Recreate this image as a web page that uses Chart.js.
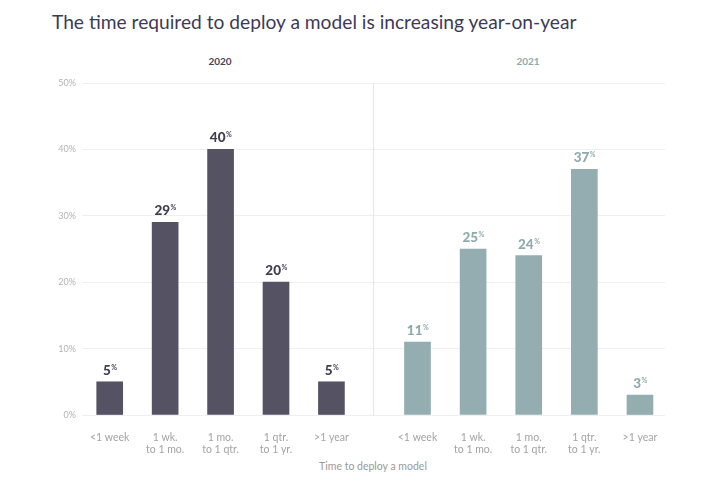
<!DOCTYPE html>
<html>
<head>
<meta charset="utf-8">
<script src="https://cdn.jsdelivr.net/npm/chart.js@4"></script>
<style>
  body { margin: 0; background: #fff; font-family: Lato, sans-serif; }
  #wrap { position: relative; width: 703px; height: 487px; overflow: hidden; }
  #title { position: absolute; left: 52px; top: 10px; font-size: 19.2px; color: #3d3a58; white-space: nowrap; }
  .panel { position: absolute; top: 55px; width: 100px; margin-left: -50px; text-align: center; font-size: 10px; font-weight: bold; }
  #xtitle { position: absolute; left: 273px; width: 200px; top: 460px; text-align: center; font-size: 10.5px; color: #999; }
  .box { position: absolute; top: 40px; height: 440px; }
</style>
</head>
<body>
<div id="wrap">
  <div id="title">The time required to deploy a model is increasing year-on-year</div>
  <div class="panel" style="left:220px;color:#45435a">2020</div>
  <div class="panel" style="left:528px;color:#8eaaad">2021</div>
  <div id="xtitle">Time to deploy a model</div>
  <div class="box" style="left:0;width:373px"><canvas id="left"></canvas></div>
  <div class="box" style="left:373px;width:330px"><canvas id="right"></canvas></div>
</div>
<script>
const categories = ['<1 week', ['1 wk.', 'to 1 mo.'], ['1 mo.', 'to 1 qtr.'], ['1 qtr.', 'to 1 yr.'], '>1 year'];
const values2020 = [5, 29, 40, 20, 5];
const values2021 = [11, 25, 24, 37, 3];
const yTicks = [0, 10, 20, 30, 40, 50];

// value labels like "40%" with a small raised percent sign
const valueLabels = {
  id: 'valueLabels',
  afterDatasetsDraw(chart) {
    const ctx = chart.ctx;
    const ds = chart.data.datasets[0];
    chart.getDatasetMeta(0).data.forEach((bar, i) => {
      const num = String(ds.data[i].y);
      ctx.save();
      ctx.fillStyle = ds.labelColor;
      ctx.textBaseline = 'alphabetic';
      ctx.font = '900 13.5px Lato';
      const w = ctx.measureText(num).width;
      ctx.font = 'bold 7px Lato';
      const pw = ctx.measureText('%').width;
      const x0 = bar.x - (w + pw) / 2;
      const y0 = bar.y - 7;
      ctx.font = '900 13.5px Lato';
      ctx.fillText(num, x0, y0);
      ctx.font = 'bold 7px Lato';
      ctx.fillText('%', x0 + w + 0.5, y0 - 5);
      ctx.restore();
    });
  }
};

function makeChart(id, values, color, labelColor, xMin, xMax, showY) {
  return new Chart(document.getElementById(id), {
    type: 'bar',
    data: {
      datasets: [{
        data: values.map((v, i) => ({ x: i, y: v })),
        backgroundColor: color,
        labelColor: labelColor,
        barThickness: 26
      }]
    },
    options: {
      responsive: true,
      maintainAspectRatio: false,
      animation: false,
      layout: { padding: { top: 43, right: showY ? 0 : 38, bottom: 0, left: 0 } },
      plugins: { legend: { display: false }, tooltip: { enabled: false } },
      scales: {
        x: {
          type: 'linear',
          min: xMin,
          max: xMax,
          offset: false,
          grid: { display: false, drawTicks: false },
          border: { display: false },
          afterFit: (s) => { s.height = 65; },
          ticks: {
            stepSize: 1,
            includeBounds: false,
            autoSkip: false,
            maxRotation: 0,
            padding: 16,
            color: '#a3a3a3',
            font: { family: 'Lato', size: 10.5 },
            callback: (v) => Number.isInteger(v) && categories[v] ? categories[v] : ''
          }
        },
        y: {
          min: yTicks[0],
          max: yTicks[yTicks.length - 1],
          afterFit: (s) => { s.width = showY ? 82 : 0; },
          afterBuildTicks: (s) => { s.ticks = yTicks.map(v => ({ value: v })); },
          grid: { color: '#efefef', drawTicks: false },
          border: { display: !showY, color: '#e6e6e6' },
          ticks: {
            display: showY,
            padding: 6,
            color: '#b3b3b3',
            font: { family: 'Lato', size: 9 },
            callback: (v) => v + '%'
          }
        }
      }
    },
    plugins: [valueLabels]
  });
}

makeChart('left', values2020, '#545263', '#403e50', -0.5, 4.75, true);
makeChart('right', values2021, '#94adb0', '#8eaaad', -0.8, 4.45, false);
</script>
</body>
</html>
